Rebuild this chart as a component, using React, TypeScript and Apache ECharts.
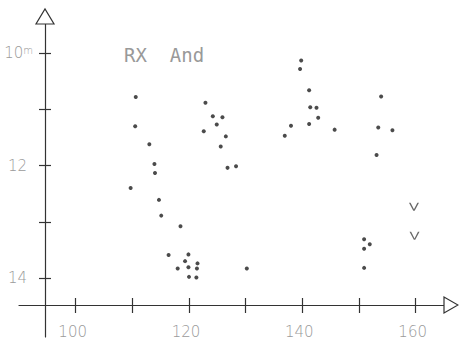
import React, { useEffect, useRef } from "react";
import * as echarts from "echarts";

// Julian day offsets (x) and visual magnitudes (y) of RX And
const days = [
  110.6, 110.5, 113.0, 113.9, 114.0, 109.7, 114.7, 115.1, 118.5, 116.4,
  119.9, 119.3, 121.5, 118.0, 119.9, 121.4, 120.0, 121.3, 122.9, 124.2,
  125.9, 124.9, 122.6, 126.5, 125.6, 126.8, 128.3, 130.2, 139.8, 139.6,
  141.2, 141.4, 142.5, 142.8, 138.0, 141.2, 136.9, 145.7, 153.9, 153.4,
  155.9, 153.1, 150.9, 151.9, 150.9, 150.9,
];
const mags = [
  10.78, 11.3, 11.62, 11.97, 12.13, 12.4, 12.61, 12.89, 13.08, 13.59,
  13.58, 13.7, 13.74, 13.83, 13.81, 13.83, 13.98, 13.99, 10.88, 11.12,
  11.14, 11.27, 11.39, 11.48, 11.66, 12.04, 12.01, 13.83, 10.13, 10.28,
  10.66, 10.96, 10.97, 11.15, 11.29, 11.26, 11.47, 11.36, 10.77, 11.32,
  11.37, 11.81, 13.31, 13.4, 13.48, 13.82,
];
// fainter-than limits ("V" marks)
const limitDays = [159.7, 159.8];
const limitMags = [12.73, 13.25];

const xTicks = [100, 110, 120, 130, 140, 150, 160];
const xLabels = [100, 120, 140, 160];
const yTicks = [10, 11, 12, 13, 14];
const yLabels = [10, 12, 14];

const W = 459;
const H = 339;
const GRID = { left: 19, right: 15, top: 24, bottom: 2 };
const AXIS_X_PIX = 45; // y axis line position
const AXIS_Y_PIX = 305; // x axis line position

export default function App() {
  const ref = useRef<HTMLDivElement>(null);
  useEffect(() => {
    if (!ref.current) return;
    const chart = echarts.init(ref.current, null, { renderer: "svg" });
    const lineColor = "#333";
    const labelColor = "#9a9a9a";
    const xRight = W - GRID.right;
    const gridBottom = H - GRID.bottom;

    const baseX = {
      type: "value" as const,
      min: 90,
      max: 165,
      splitLine: { show: false },
    };
    const baseY = {
      type: "value" as const,
      min: 9.48,
      max: 15.05,
      inverse: true,
      splitLine: { show: false },
    };
    const tickStyle = { color: lineColor, width: 1.2 };

    chart.setOption({
      animation: false,
      grid: GRID,
      title: {
        text: "RX  And",
        left: 124,
        top: 45,
        padding: 0,
        textStyle: {
          fontFamily: "DejaVu Sans Mono",
          fontSize: 19,
          fontWeight: "normal",
          color: "#999",
        },
      },
      xAxis: [
        {
          ...baseX,
          position: "bottom",
          offset: -(gridBottom - AXIS_Y_PIX),
          axisLine: { show: true, lineStyle: { color: lineColor, width: 1.2 } },
          axisTick: {
            show: true,
            customValues: xTicks,
            length: 8,
            lineStyle: tickStyle,
          },
          axisLabel: {
            show: true,
            customValues: xLabels,
            margin: 19,
            color: labelColor,
            fontFamily: "DejaVu Sans",
            fontWeight: 200,
            fontSize: 15,
            padding: [0, 6, 0, 0],
          },
        },
        {
          ...baseX,
          position: "top",
          offset: -(AXIS_Y_PIX - GRID.top),
          axisLine: { show: false },
          axisTick: {
            show: true,
            customValues: xTicks,
            length: 7,
            lineStyle: tickStyle,
          },
          axisLabel: { show: false },
        },
      ],
      yAxis: [
        {
          ...baseY,
          position: "left",
          offset: -(AXIS_X_PIX - GRID.left),
          axisLine: { show: true, lineStyle: { color: lineColor, width: 1.2 } },
          axisTick: {
            show: true,
            customValues: yTicks,
            length: 6,
            lineStyle: tickStyle,
          },
          axisLabel: {
            show: true,
            customValues: yLabels,
            margin: 12,
            formatter: (v: number) =>
              v === 10 ? "{n|10}{m|m}" : "{p|" + v + "}",
            rich: {
              n: {
                color: labelColor,
                fontFamily: "DejaVu Sans",
                fontWeight: 200,
                fontSize: 15,
              },
              p: {
                color: labelColor,
                fontFamily: "DejaVu Sans",
                fontWeight: 200,
                fontSize: 15,
                padding: [0, 6, 0, 0],
              },
              m: {
                color: labelColor,
                fontFamily: "DejaVu Sans",
                fontWeight: 200,
                fontSize: 10,
                verticalAlign: "top",
                padding: [0, 0, 6, 0],
              },
            },
          },
        },
        {
          ...baseY,
          position: "right",
          offset: -(xRight - AXIS_X_PIX),
          axisLine: { show: false },
          axisTick: {
            show: true,
            customValues: yTicks,
            length: 6,
            lineStyle: tickStyle,
          },
          axisLabel: { show: false },
        },
      ],
      graphic: [
        {
          type: "polygon",
          z: 100,
          shape: {
            points: [
              [AXIS_X_PIX - 9, GRID.top],
              [AXIS_X_PIX + 9, GRID.top],
              [AXIS_X_PIX, GRID.top - 15],
            ],
          },
          style: { fill: "#fff", stroke: lineColor, lineWidth: 1.2 },
        },
        {
          type: "polygon",
          z: 100,
          shape: {
            points: [
              [xRight, AXIS_Y_PIX - 8],
              [xRight, AXIS_Y_PIX + 8],
              [xRight + 14, AXIS_Y_PIX],
            ],
          },
          style: { fill: "#fff", stroke: lineColor, lineWidth: 1.2 },
        },
      ],
      series: [
        {
          type: "scatter",
          xAxisIndex: 0,
          yAxisIndex: 0,
          data: days.map((d, i) => [d, mags[i]]),
          symbol: "circle",
          symbolSize: 4,
          itemStyle: { color: "#1e1e1e" },
        },
        {
          type: "scatter",
          xAxisIndex: 0,
          yAxisIndex: 0,
          data: limitDays.map((d, i) => [d, limitMags[i]]),
          symbol: "path://M0,0 L1.6,0 L5,7.4 L8.4,0 L10,0 L5.7,9 L4.3,9 Z",
          symbolSize: [10, 8],
          itemStyle: { color: "#444" },
        },
      ],
    });
    return () => chart.dispose();
  }, []);
  return (
    <div
      ref={ref}
      style={{ position: "fixed", left: 0, top: 0, width: W, height: H, background: "#fff" }}
    />
  );
}
